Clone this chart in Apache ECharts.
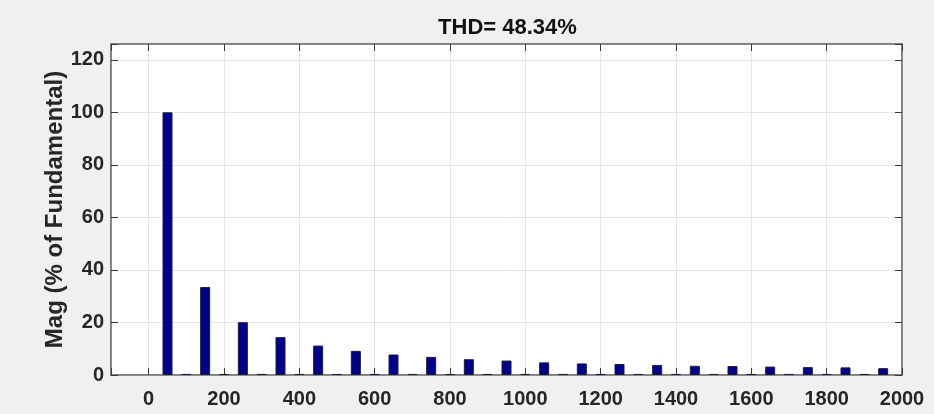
<!DOCTYPE html>
<html>
<head>
<meta charset="utf-8">
<script src="https://cdn.jsdelivr.net/npm/echarts@6/dist/echarts.min.js"></script>
<style>
  html, body { margin: 0; padding: 0; background: #f0f0f0; }
  #chart { width: 934px; height: 414px; }
</style>
</head>
<body>
<div id="chart"></div>
<script>
// Harmonic spectrum of the waveform (50 Hz fundamental)
const titleText = 'THD= 48.34%';
const yAxisTitle = 'Mag (% of Fundamental)';

// Harmonic frequencies in Hz
const harmonicFreq = [
  50, 100, 150, 200, 250, 300, 350, 400, 450, 500,
  550, 600, 650, 700, 750, 800, 850, 900, 950, 1000,
  1050, 1100, 1150, 1200, 1250, 1300, 1350, 1400, 1450, 1500,
  1550, 1600, 1650, 1700, 1750, 1800, 1850, 1900, 1950
];
// Magnitude of each harmonic, % of fundamental
const harmonicMag = [
  100, 0.4, 33.5, 0.4, 20.1, 0.4, 14.4, 0.4, 11.2, 0.4,
  9.2, 0.4, 7.8, 0.4, 6.9, 0.4, 6.0, 0.4, 5.5, 0.4,
  4.8, 0.4, 4.4, 0.4, 4.2, 0.4, 3.8, 0.4, 3.5, 0.4,
  3.4, 0.4, 3.2, 0.4, 3.0, 0.4, 2.9, 0.4, 2.6
];

// Axis ranges and tick step
const xRange = [-100, 2000];
const yRange = [0, 126];
const xStep = 200;
const yStep = 20;

const chart = echarts.init(document.getElementById('chart'), null, { renderer: 'canvas' });

const textColor = '#262626';
const frameColor = '#6e6e6e';
const tickColor = '#3a3a3a';
const gridColor = '#e6e6e6';
const fontFamily = '"Liberation Sans", Arial, Helvetica, sans-serif';

const gridBox = { left: 111, right: 32, top: 44, bottom: 39 };

const hideOffStep = (step) => (v) => (Math.abs(v % step) < 1e-9 ? String(v) : '');

const frameAxisLine = { show: true, onZero: false, lineStyle: { color: frameColor, width: 1.5 } };
const innerTick = { show: true, inside: true, length: 7, lineStyle: { color: tickColor, width: 1 } };

chart.setOption({
  backgroundColor: '#f0f0f0',
  animation: false,
  title: {
    text: titleText,
    // centred over the plot box
    left: gridBox.left + (934 - gridBox.left - gridBox.right) / 2 - 4,
    textAlign: 'center',
    top: 12,
    textStyle: { fontFamily, fontSize: 22, fontWeight: 'bold', color: '#111' }
  },
  grid: Object.assign({}, gridBox, {
    show: true, backgroundColor: '#ffffff', borderColor: frameColor, borderWidth: 1
  }),
  xAxis: [
    {
      type: 'value', position: 'bottom',
      min: xRange[0], max: xRange[1], splitNumber: 10,
      axisLine: frameAxisLine, axisTick: innerTick,
      splitLine: { show: true, lineStyle: { color: gridColor, width: 1 } },
      axisLabel: {
        margin: 14, color: textColor, fontFamily, fontSize: 20, fontWeight: 'bold',
        formatter: hideOffStep(xStep)
      }
    },
    {
      type: 'value', position: 'top',
      min: xRange[0], max: xRange[1], splitNumber: 10,
      axisLine: frameAxisLine, axisTick: innerTick,
      splitLine: { show: false }, axisLabel: { show: false }
    }
  ],
  yAxis: [
    {
      type: 'value', position: 'left',
      min: yRange[0], max: yRange[1], interval: yStep,
      name: yAxisTitle, nameLocation: 'middle', nameGap: 44,
      nameMoveOverlap: false,
      nameTextStyle: { fontFamily, fontSize: 24, fontWeight: 'bold', color: textColor },
      axisLine: frameAxisLine, axisTick: innerTick,
      splitLine: { show: true, lineStyle: { color: gridColor, width: 1 } },
      axisLabel: {
        margin: 7, color: textColor, fontFamily, fontSize: 20, fontWeight: 'bold',
        formatter: hideOffStep(yStep)
      }
    },
    {
      type: 'value', position: 'right',
      min: yRange[0], max: yRange[1], interval: yStep,
      axisLine: frameAxisLine, axisTick: innerTick,
      splitLine: { show: false }, axisLabel: { show: false }
    }
  ],
  series: [
    {
      type: 'bar',
      xAxisIndex: 0, yAxisIndex: 0,
      barWidth: 10,
      data: harmonicFreq.map((f, i) => [f, harmonicMag[i]]),
      itemStyle: { color: '#00008c', borderColor: '#1c1c3a', borderWidth: 1 }
    }
  ]
});
</script>
</body>
</html>
